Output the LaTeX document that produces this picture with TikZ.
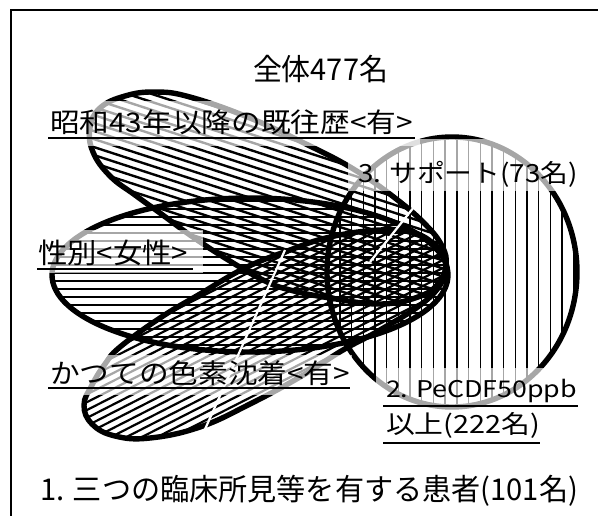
\documentclass[tikz,border=0pt]{standalone}
\usepackage{fontspec}
\setmainfont{Noto Sans CJK JP}
\usepackage{graphicx}
\tikzset{
  outl/.style={line width=5.4pt, black},
  hatchA/.style={line width=2.4pt, black},
  hatchB/.style={line width=1.4pt, black},
  hatchC/.style={line width=2.2pt, black},
  hatchD/.style={line width=1.4pt, black},
  lblbox/.style={fill=white, fill opacity=0.65, draw=none},
  uline/.style={line width=1.2pt, black},
  leader/.style={white, line width=2.2pt},
  framel/.style={line width=1.6pt, black},
  txt/.style={anchor=base west, inner sep=0pt, outer sep=0pt}
}
\newcommand\lbl[3]{\resizebox{#1}{\height}{\fontsize{#2}{#2}\selectfont #3}}
\begin{document}
\begin{tikzpicture}[x=1pt,y=-1pt]
\useasboundingbox (0,0) rectangle (598,515);
\def\shA{plot[smooth cycle, tension=0.7] coordinates {(100,108) (125,96) (155,92) (190,97) (250,118) (310,146) (355,170) (395,198) (425,224) (442,246) (446,265) (438,284) (418,297) (380,304) (330,298) (290,290) (263,280) (225,258) (190,235) (160,213) (135,195) (110,176) (93,152) (90,128)}}
\def\shB{(250,275) ellipse [x radius=198pt, y radius=77pt]}
\def\shC{plot[smooth cycle, tension=0.7] coordinates {(84,405) (92,385) (105,364) (120,347) (160,318) (200,294) (245,268) (290,250) (330,237) (380,230) (415,233) (438,248) (446,262) (443,280) (423,303) (380,330) (343,350) (300,377) (250,404) (200,427) (150,438) (115,436) (92,424)}}
\def\shD{(452,272) ellipse [x radius=125pt, y radius=135pt]}

% hatching
\begin{scope}
  \clip \shA;
  \begin{scope}[rotate around={-18:(266,195)}]
    \foreach \k in {-32,...,32} \draw[hatchA] (30,{195+(\k)*7.6}) -- (520,{195+(\k)*7.6});
  \end{scope}
\end{scope}
\begin{scope}
  \clip \shB;
  \foreach \k in {-12,...,10} \draw[hatchB] (40,{281+(\k)*8}) -- (460,{281+(\k)*8});
\end{scope}
\begin{scope}
  \clip \shC;
  \begin{scope}[rotate around={27:(265,335)}]
    \foreach \k in {-34,...,34} \draw[hatchC] (10,{335+(\k)*7}) -- (540,{335+(\k)*7});
  \end{scope}
\end{scope}
\begin{scope}
  \clip \shD;
  \foreach \k in {-10,...,16} \draw[hatchD] ({410+(\k)*11.7},125) -- ({410+(\k)*11.7},420);
\end{scope}

% outlines
\draw[outl] \shA;
\draw[outl] \shB;
\draw[outl] \shC;
\draw[outl] \shD;

% white leader lines
\coordinate (w1a) at (285,250);
\coordinate (w1b) at (202,436);
\coordinate (w2a) at (370,262);
\coordinate (w2b) at (414,207);
\draw[leader] (w1a) -- (w1b);
\draw[leader] (w2a) -- (w2b);

% label boxes
\fill[lblbox] (45,101) rectangle (420,146);
\fill[lblbox] (33,230) rectangle (203,273);
\fill[lblbox] (43,355) rectangle (352,395);
\fill[lblbox] (348,139) rectangle (598,191);
\fill[lblbox] (376,368) rectangle (598,447);

% texts
\node[txt] (total) at (253,80) {\lbl{135pt}{30pt}{全体477名}};
\node[txt] (hist) at (50,132) {\lbl{363pt}{27pt}{昭和43年以降の既往歴<有>}};
\node[txt] (sex) at (38,263) {\lbl{150pt}{28pt}{性別<女性>}};
\node[txt] (pig) at (50,383) {\lbl{300pt}{27pt}{かつての色素沈着<有>}};
\node[txt] (sup) at (358,182) {\lbl{220pt}{25pt}{3. サポート(73名)}};
\node[txt] (pe1) at (386,397) {\lbl{191pt}{23pt}{2. PeCDF50ppb}};
\node[txt] (pe2) at (386,433) {\lbl{154pt}{25pt}{以上(222名)}};
\node[txt] (three) at (40,500) {\lbl{538pt}{30pt}{1. 三つの臨床所見等を有する患者(101名)}};

% underlines
\draw[uline] (48,138) -- (415,138);
\draw[uline] (37,269) -- (193,269);
\draw[uline] (48,388) -- (350,388);
\draw[uline] (383,406) -- (578,406);
\draw[uline] (383,443) -- (540,443);

% frame
\draw[framel] (11,520) -- (11,10) -- (600,10);
\end{tikzpicture}
\end{document}
